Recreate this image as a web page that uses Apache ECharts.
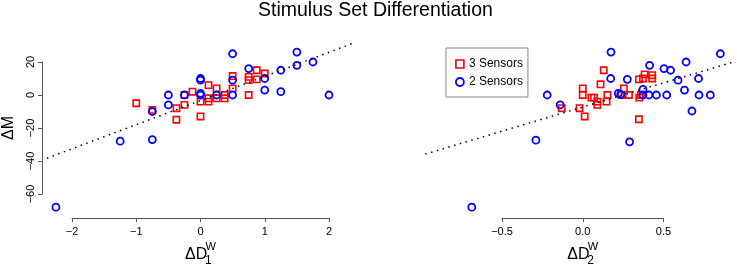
<!DOCTYPE html>
<html>
<head>
<meta charset="utf-8">
<script src="https://cdn.jsdelivr.net/npm/echarts@6/dist/echarts.min.js"></script>
<style>
html, body { margin: 0; padding: 0; background: #fff; }
#plot { width: 737px; height: 266px; }
</style>
</head>
<body>
<div id="plot"></div>
<script>
// 左图：ΔD1 vs ΔM
var d1ThreeSensors = [[-1.0,-5],[-0.75,-9],[-0.375,-8],[-0.375,-15],[-0.25,-6],[-0.25,0],[-0.125,2],[0,-4],[0,-13],
  [0.125,6],[0.125,-2],[0.125,-4],[0.25,4],[0.25,-2],[0.375,0],[0.375,-2],[0.5,11.5],[0.5,4],[0.75,0],[0.75,11],
  [0.75,9],[0.875,15],[0.875,9.5],[1.0,13]];
var d1TwoSensors = [[-2.25,-68],[-1.25,-28],[-0.75,-27],[-0.75,-10],[-0.5,0],[-0.5,-6],[-0.25,0],[0,10],[0,9],[0,1],
  [0,0],[0.25,0],[0.5,25],[0.5,9],[0.5,0],[0.75,16],[1.0,10],[1.0,3],[1.25,15],[1.25,2],[1.5,26],[1.5,18],[1.75,20],[2.0,0]];
var d1FitLine = [[-2.39,-38.3],[2.37,31.3]];

// 右图：ΔD2 vs ΔM
var d2ThreeSensors = [[-0.13,-8],[-0.02,-8],[0,4],[0,0],[0.012,-13],[0.054,-1.6],[0.07,-1.6],[0.09,-4],[0.09,-6],
  [0.11,6.5],[0.13,15],[0.147,-4],[0.153,0],[0.24,0],[0.255,4],[0.286,0],[0.348,9.5],[0.35,-1.6],[0.348,-14.7],
  [0.373,10],[0.383,12.5],[0.43,12],[0.43,10],[0.36,0]];
var d2TwoSensors = [[-0.687,-68],[-0.29,-27.4],[-0.22,0],[-0.14,-6],[0.175,26],[0.173,10],[0.276,9.5],[0.29,-28.4],
  [0.22,1],[0.235,0.4],[0.373,3.4],[0.373,0],[0.41,0],[0.414,18],[0.456,0],[0.503,16],[0.52,0],[0.544,15],[0.59,9],
  [0.63,3],[0.64,20],[0.676,-9.7],[0.717,10],[0.72,0],[0.79,0],[0.852,25]];
var d2FitLine = [[-0.975,-35.8],[0.94,20.2]];

// 坐标轴刻度范围 [min, max, interval]
var d1Ticks = [-2, 2, 1];
var d2Ticks = [-0.5, 0.5, 0.5];
var mTicks = [-60, 20, 20];
// 绘图区（数据）范围，比刻度宽
var d1Plot = [-2.5, 2.5];
var d2Plot = [-0.99, 0.95];
var mPlot = [-80, 40];

var FONT = '"Liberation Sans", Arial, sans-serif';
var AXIS_COLOR = '#555';
var minus = function (s) { return String(s).replace('-', '\u2212'); };

// 刻度所在的像素位置
var axisBox = [
  { left: 72, top: 62, width: 257, height: 132 },
  { left: 502, top: 62, width: 161.5, height: 132 }
];

// 数据网格与刻度网格保持同一比例
function plotGrid(box, ticks, plot) {
  var kx = box.width / (ticks[1] - ticks[0]);
  var ky = box.height / (mTicks[1] - mTicks[0]);
  return {
    left: box.left - (ticks[0] - plot[0]) * kx,
    width: (plot[1] - plot[0]) * kx,
    top: box.top - (mPlot[1] - mTicks[1]) * ky,
    height: (mPlot[1] - mPlot[0]) * ky
  };
}

var grids = [
  plotGrid(axisBox[0], d1Ticks, d1Plot),
  plotGrid(axisBox[1], d2Ticks, d2Plot),
  axisBox[0],
  axisBox[1]
];

function xAxis(gi, r, fmt) {
  return {
    type: 'value', gridIndex: gi, min: r[0], max: r[1], interval: r[2], offset: 24,
    axisLine: { show: true, onZero: false, lineStyle: { color: AXIS_COLOR, width: 1 } },
    axisTick: { show: true, length: 4, lineStyle: { color: AXIS_COLOR } },
    axisLabel: { color: '#000', fontSize: 11, margin: 8, fontFamily: FONT, formatter: fmt },
    splitLine: { show: false }
  };
}

function hiddenAxis(gi, r) {
  return { type: 'value', gridIndex: gi, min: r[0], max: r[1], show: false, splitLine: { show: false } };
}

function scatter(name, gi, data, sym, color, size, bw) {
  return {
    name: name, type: 'scatter', xAxisIndex: gi, yAxisIndex: gi, data: data, clip: false,
    symbol: sym, symbolSize: size, silent: true,
    itemStyle: { color: 'transparent', borderColor: color, borderWidth: bw, opacity: 1 }
  };
}

function fit(gi, data) {
  return {
    type: 'line', xAxisIndex: gi, yAxisIndex: gi, data: data, clip: false, symbol: 'none', silent: true,
    lineStyle: { color: '#000', width: 1.5, type: [1.5, 4.5], cap: 'butt' }
  };
}

function subLabel(cx, idx) {
  return [
    { type: 'text', x: cx - 15.5, y: 254.5, style: { text: '\u0394D', fontSize: 16, fontFamily: FONT, fill: '#000', align: 'left', verticalAlign: 'middle' } },
    { type: 'text', x: cx + 5, y: 247, style: { text: 'W', fontSize: 11, fontFamily: FONT, fill: '#000', align: 'left', verticalAlign: 'middle' } },
    { type: 'text', x: cx + 4.5, y: 261, style: { text: idx, fontSize: 12, fontFamily: FONT, fill: '#000', align: 'left', verticalAlign: 'middle' } }
  ];
}

var myChart = echarts.init(document.getElementById('plot'));

var option = {
  animation: false,
  backgroundColor: '#fff',
  textStyle: { fontFamily: FONT },
  title: {
    text: 'Stimulus Set Differentiation', left: 258, top: 0, padding: [1, 0, 0, 0],
    textStyle: { fontSize: 19.5, fontWeight: 'normal', color: '#000', fontFamily: FONT }
  },
  legend: {
    orient: 'vertical', left: 446, top: 48, padding: [10, 5, 9, 9], itemGap: 6,
    itemWidth: 8, itemHeight: 8, borderColor: '#888', borderWidth: 1, backgroundColor: '#fff',
    textStyle: { fontSize: 12, color: '#000', fontFamily: FONT },
    data: [
      { name: '3 Sensors', icon: 'rect', itemStyle: { color: 'transparent', borderColor: '#f00', borderWidth: 1.6 } },
      { name: '2 Sensors', icon: 'circle', itemStyle: { color: 'transparent', borderColor: '#00f', borderWidth: 1.8 } }
    ]
  },
  grid: grids,
  xAxis: [
    hiddenAxis(0, d1Plot),
    hiddenAxis(1, d2Plot),
    xAxis(2, d1Ticks, function (v) { return minus(v); }),
    xAxis(3, d2Ticks, function (v) { return minus(v.toFixed(1)); })
  ],
  yAxis: [
    hiddenAxis(0, mPlot),
    hiddenAxis(1, mPlot),
    {
      type: 'value', gridIndex: 2, min: mTicks[0], max: mTicks[1], interval: mTicks[2], offset: 30,
      name: '\u0394M', nameLocation: 'middle', nameGap: 25,
      nameTextStyle: { fontSize: 16, color: '#000', fontFamily: FONT },
      axisLine: { show: true, onZero: false, lineStyle: { color: AXIS_COLOR, width: 1 } },
      axisTick: { show: true, length: 4, lineStyle: { color: AXIS_COLOR } },
      axisLabel: { color: '#000', fontSize: 11, margin: 6, rotate: 90, fontFamily: FONT, formatter: function (v) { return minus(v); } },
      splitLine: { show: false }
    },
    hiddenAxis(3, mTicks)
  ],
  graphic: subLabel(200.5, '1').concat(subLabel(582.75, '2')),
  series: [
    scatter('3 Sensors', 0, d1ThreeSensors, 'rect', '#f00', 6.3, 1.6),
    scatter('2 Sensors', 0, d1TwoSensors, 'circle', '#00f', 7, 1.8),
    fit(0, d1FitLine),
    scatter('3 Sensors', 1, d2ThreeSensors, 'rect', '#f00', 6.3, 1.6),
    scatter('2 Sensors', 1, d2TwoSensors, 'circle', '#00f', 7, 1.8),
    fit(1, d2FitLine)
  ]
};

myChart.setOption(option);
</script>
</body>
</html>
